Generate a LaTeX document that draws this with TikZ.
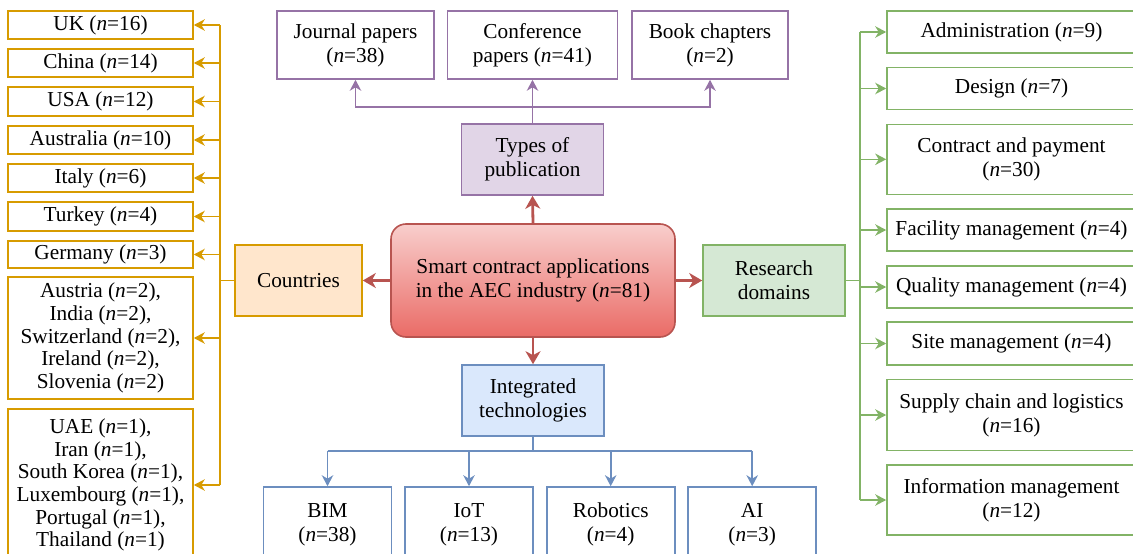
\documentclass[tikz,border=0pt]{standalone}
\usepackage{fontspec}
\setmainfont{Liberation Serif}
\usetikzlibrary{arrows.meta}
\definecolor{oS}{HTML}{D79B00}
\definecolor{oF}{HTML}{FFE6CC}
\definecolor{pS}{HTML}{9673A6}
\definecolor{pF}{HTML}{E1D5E7}
\definecolor{gS}{HTML}{82B366}
\definecolor{gF}{HTML}{D5E8D4}
\definecolor{bS}{HTML}{6C8EBF}
\definecolor{bF}{HTML}{DAE8FC}
\definecolor{rS}{HTML}{B85450}
\definecolor{rT}{HTML}{F8CECC}
\definecolor{rB}{HTML}{EA6B66}
\begin{document}
\begin{tikzpicture}[x=1pt,y=-1pt,
  every node/.style={font=\fontsize{21.3}{24}\selectfont, align=center, inner sep=0pt, line width=1.6pt},
  tight/.style={font=\fontsize{21.3}{22.7}\selectfont},
  obox/.style={draw=oS, fill=white, minimum width=185pt},
  pbox/.style={draw=pS, fill=white, minimum height=68pt},
  bbox/.style={draw=bS, fill=white, minimum width=128pt, minimum height=75pt},
  gbox/.style={draw=gS, fill=white, minimum width=249pt},
  hub/.style={minimum width=142pt, minimum height=71pt},
  tip/.style={-{Stealth[length=11pt,width=11.5pt,inset=3.5pt]}},
  oline/.style={draw=oS, line width=1.6pt},
  pline/.style={draw=pS, line width=1.6pt},
  bline/.style={draw=bS, line width=1.6pt},
  gline/.style={draw=gS, line width=1.6pt},
  oarr/.style={tip, oline},
  parr/.style={tip, pline},
  barr/.style={tip, bline},
  garr/.style={tip, gline},
  rarr/.style={-{Stealth[length=13pt,width=15pt,inset=4pt]}, draw=rS, line width=2.8pt},
]
\useasboundingbox (0,0) rectangle (1133,554);
\clip (0,0) rectangle (1133,554);

% centre
\node[draw=rS, top color=rT, bottom color=rB, rounded corners=15pt, minimum width=284pt, minimum height=113pt] (c) at (533,280.5)
  {Smart contract applications\\in the AEC industry (\textit{n}=81)};

% hubs
\node[hub, draw=oS, fill=oF, minimum width=127pt] (cty) at (298.5,280.5) {Countries};
\node[hub, draw=gS, fill=gF] (res) at (774,280.5) {Research\\domains};
\node[hub, draw=pS, fill=pF] (typ) at (532.5,159.5) {Types of\\publication};
\node[hub, draw=bS, fill=bF] (int) at (533,400.5) {Integrated\\technologies};

\draw[rarr] (c.west) -- (cty.east);
\draw[rarr] (c.east) -- (res.west);
\draw[rarr] (c.north) -- (typ.south);
\draw[rarr] (c.south) -- (int.north);

% countries
\node[obox, minimum height=28pt] (uk) at (100.5,25) {UK (\textit{n}=16)};
\node[obox, minimum height=28pt] (cn) at (100.5,63) {China (\textit{n}=14)};
\node[obox, minimum height=29pt] (us) at (100.5,101.5) {USA (\textit{n}=12)};
\node[obox, minimum height=28pt] (au) at (100.5,140) {Australia (\textit{n}=10)};
\node[obox, minimum height=28pt] (it) at (100.5,178) {Italy (\textit{n}=6)};
\node[obox, minimum height=29pt] (tr) at (100.5,216.5) {Turkey (\textit{n}=4)};
\node[obox, minimum height=27pt] (de) at (100.5,254.5) {Germany (\textit{n}=3)};
\node[obox, tight, minimum height=122pt] (two) at (100.5,338)
  {Austria (\textit{n}=2),\\India (\textit{n}=2),\\Switzerland (\textit{n}=2),\\Ireland (\textit{n}=2),\\Slovenia (\textit{n}=2)};
\node[obox, tight, minimum height=152pt] (one) at (100.5,485)
  {UAE (\textit{n}=1),\\Iran (\textit{n}=1),\\South Korea (\textit{n}=1),\\Luxembourg (\textit{n}=1),\\Portugal (\textit{n}=1),\\Thailand (\textit{n}=1)};

\draw[oline] (cty.west) -- ++(-14,0) coordinate (ot);
\draw[oline] (ot |- uk.east) -- (ot |- one.east);
\foreach \n in {uk,cn,us,au,it,tr,de,two,one}
  \draw[oarr] (ot |- \n.east) -- (\n.east);

% publication types
\node[pbox, minimum width=157pt] (jp) at (355.5,45) {Journal papers\\(\textit{n}=38)};
\node[pbox, minimum width=170pt] (cp) at (532.5,45) {Conference\\papers (\textit{n}=41)};
\node[pbox, minimum width=156pt] (bc) at (710,45) {Book chapters\\(\textit{n}=2)};
\draw[parr] (typ.north) -- ++(0,-16) -| (jp.south);
\draw[parr] (typ.north) -- ++(0,-16) -| (bc.south);
\draw[parr] (typ.north) -- (cp.south);

% technologies
\node[bbox] (bim) at (327.5,524.5) {BIM\\(\textit{n}=38)};
\node[bbox] (iot) at (469,524.5) {IoT\\(\textit{n}=13)};
\node[bbox] (rob) at (610.7,524.5) {Robotics\\(\textit{n}=4)};
\node[bbox] (ai) at (752.2,524.5) {AI\\(\textit{n}=3)};
\draw[bline] (int.south) -- ++(0,14) coordinate (bt);
\draw[bline] (bt -| bim.north) -- (bt -| ai.north);
\foreach \n in {bim,iot,rob,ai}
  \draw[barr] (bt -| \n.north) -- (\n.north);

% research domains
\node[gbox, minimum height=42pt] (adm) at (1011.5,32) {Administration (\textit{n}=9)};
\node[gbox, minimum height=42pt] (des) at (1011.5,88.5) {Design (\textit{n}=7)};
\node[gbox, minimum height=70pt] (con) at (1011.5,159.3) {Contract and payment\\(\textit{n}=30)};
\node[gbox, minimum height=42pt] (fac) at (1011.5,230) {Facility management (\textit{n}=4)};
\node[gbox, minimum height=42pt] (qua) at (1011.5,287) {Quality management (\textit{n}=4)};
\node[gbox, minimum height=43pt] (sit) at (1011.5,343.5) {Site management (\textit{n}=4)};
\node[gbox, minimum height=71pt] (sup) at (1011.5,415) {Supply chain and logistics\\(\textit{n}=16)};
\node[gbox, minimum height=70pt] (inf) at (1011.5,500) {Information management\\(\textit{n}=12)};
\draw[gline] (res.east) -- ++(14,0) coordinate (gt);
\draw[gline] (gt |- adm.west) -- (gt |- inf.west);
\foreach \n in {adm,des,con,fac,qua,sit,sup,inf}
  \draw[garr] (gt |- \n.west) -- (\n.west);
\end{tikzpicture}
\end{document}
